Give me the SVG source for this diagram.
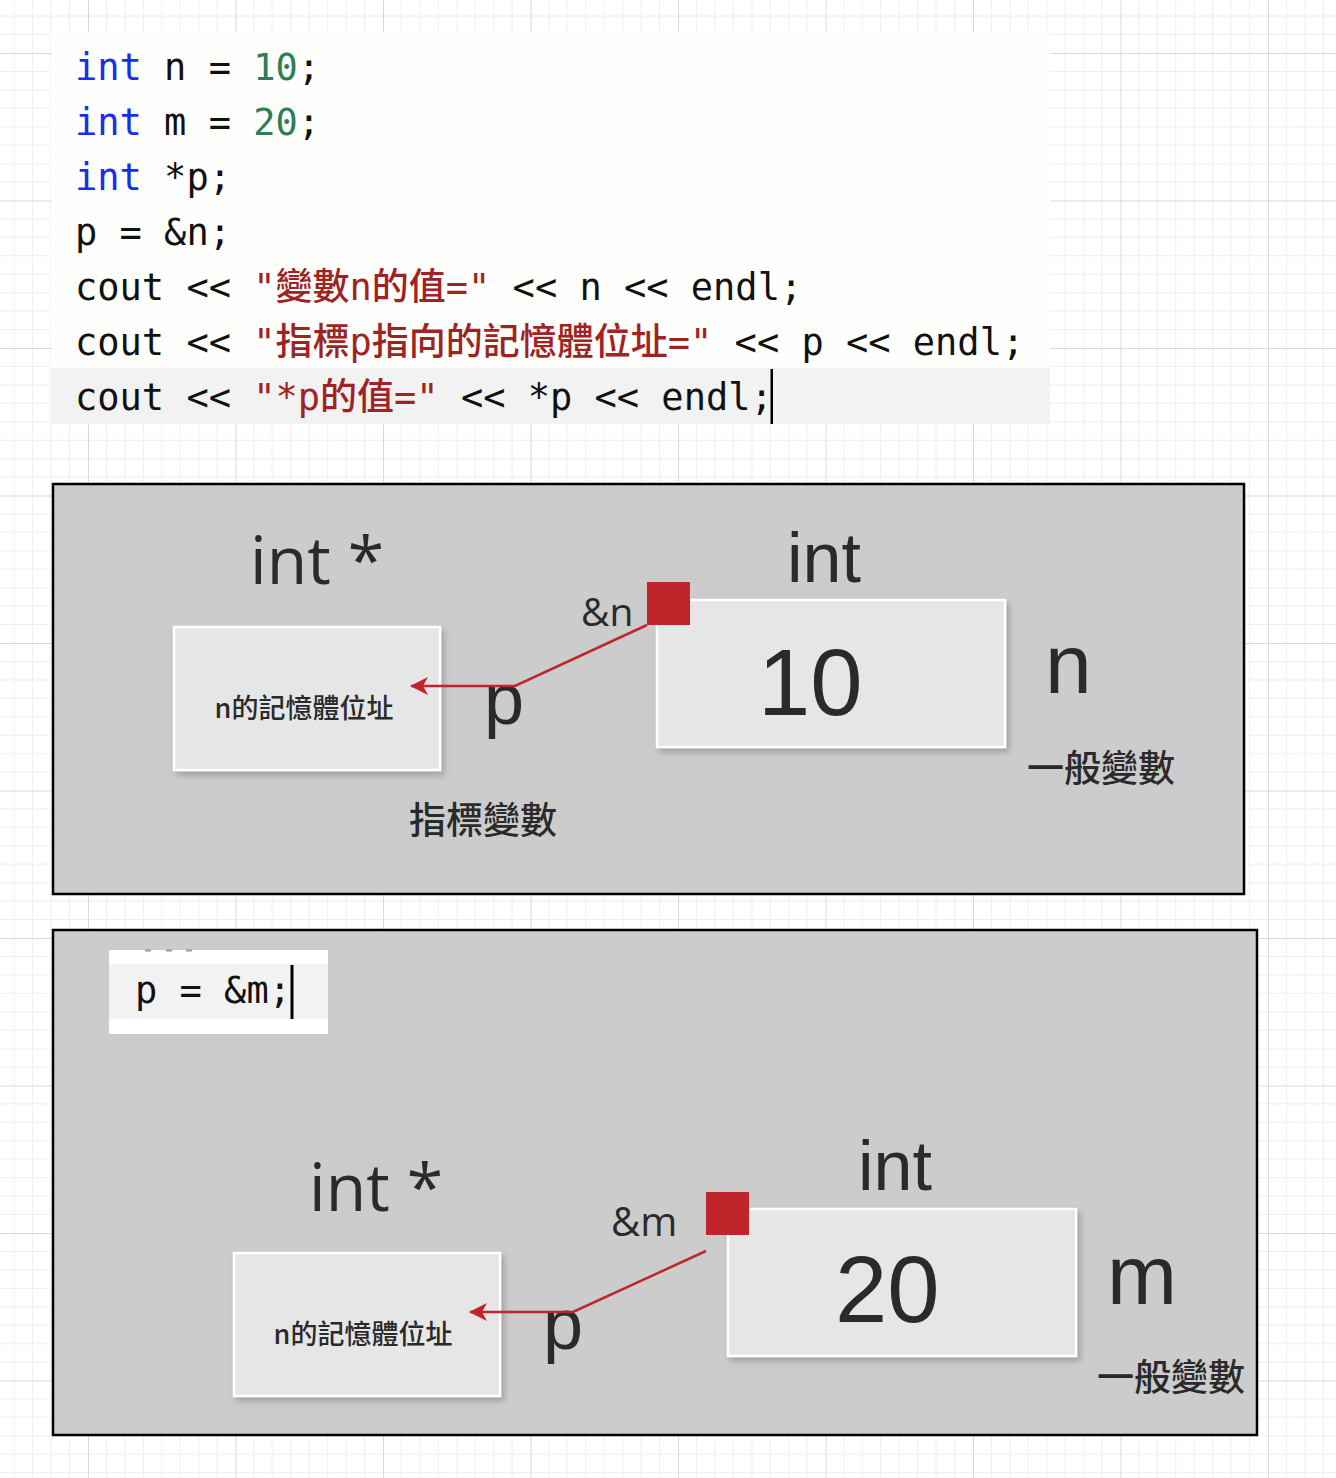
<svg xmlns="http://www.w3.org/2000/svg" width="1336" height="1478" viewBox="0 0 1336 1478">
<style>
.code{font-family:"DejaVu Sans Mono","Noto Sans CJK TC",monospace;font-size:37px;fill:#111}
.kw{fill:#1430ee}
.num{fill:#2d7d55}
.str{fill:#a02323;font-weight:500}
.panel{fill:#cccccc;stroke:#000;stroke-width:2.5}
.box{fill:#e6e6e6;stroke:#ffffff;stroke-width:2.5;filter:url(#shadow)}
.red{fill:#c1252c}
.os{font-family:"Open Sans","Noto Sans",sans-serif;fill:#2a2a2a}
.ls{font-family:"Liberation Sans",Arial,sans-serif;fill:#2a2a2a}
.cjk{font-family:"Noto Sans CJK TC","Noto Sans",sans-serif;fill:#2a2a2a;font-weight:500}
.conn{fill:none;stroke:#c1252c;stroke-width:2.5;marker-end:url(#arrow)}
</style>
<defs>
<pattern id="grid" patternUnits="userSpaceOnUse" x="88" y="53" width="147.5" height="147.5">
<path d="M18.44 0V147.5M36.88 0V147.5M55.31 0V147.5M73.75 0V147.5M92.19 0V147.5M110.63 0V147.5M129.06 0V147.5M0 18.44H147.5M0 36.88H147.5M0 55.31H147.5M0 73.75H147.5M0 92.19H147.5M0 110.63H147.5M0 129.06H147.5" stroke="#eeeeee" stroke-width="1" fill="none"/>
<path d="M0.5 0V147.5M0 0.5H147.5" stroke="#d9d9d9" stroke-width="1" fill="none"/>
</pattern>
<filter id="shadow" x="-10%" y="-10%" width="130%" height="130%">
<feDropShadow dx="3" dy="4" stdDeviation="3" flood-color="#000" flood-opacity="0.22"/>
</filter>
<marker id="arrow" markerUnits="userSpaceOnUse" viewBox="0 0 18 18" markerWidth="18" markerHeight="18" refX="17" refY="9" orient="auto">
<path d="M0,0 L18,9 L0,18 L5,9 Z" fill="#c1252c"/>
</marker>
</defs>

<rect width="1336" height="1478" fill="#ffffff"/>
<rect width="1336" height="1478" fill="url(#grid)"/>

<g id="code-block">
<rect x="51" y="32" width="999" height="392" fill="#fefefc"/>
<rect x="51" y="368" width="999" height="56" fill="#f2f2f2"/>
<text class="code" x="75" y="80"><tspan class="kw">int</tspan> n = <tspan class="num">10</tspan>;</text>
<text class="code" x="75" y="135"><tspan class="kw">int</tspan> m = <tspan class="num">20</tspan>;</text>
<text class="code" x="75" y="190"><tspan class="kw">int</tspan> *p;</text>
<text class="code" x="75" y="245">p = &amp;n;</text>
<text class="code" x="75" y="300">cout &lt;&lt; <tspan class="str">"變數n的值="</tspan> &lt;&lt; n &lt;&lt; endl;</text>
<text class="code" x="75" y="355">cout &lt;&lt; <tspan class="str">"指標p指向的記憶體位址="</tspan> &lt;&lt; p &lt;&lt; endl;</text>
<text class="code" x="75" y="410">cout &lt;&lt; <tspan class="str">"*p的值="</tspan> &lt;&lt; *p &lt;&lt; endl;</text>
<rect x="770.5" y="369" width="2.5" height="55" fill="#000"/>
</g>

<g id="panel-top">
<rect class="panel" x="53" y="484" width="1191" height="410"/>
</g>
<g id="label-intptr-top"><text class="os" x="250" y="584" font-size="66">int *</text></g>
<g id="pointer-box-top">
<rect class="box" x="174" y="627" width="266" height="143"/>
<text class="cjk" x="304" y="718" font-size="27" text-anchor="middle">n的記憶體位址</text>
</g>
<g id="label-p-top"><text class="ls" x="484" y="724" font-size="72">p</text></g>
<g id="label-ptrvar-top"><text class="cjk" x="409" y="834" font-size="37">指標變數</text></g>
<g id="label-int-top"><text class="ls" x="787" y="582" font-size="70">int</text></g>
<g id="value-box-top">
<rect class="box" x="657" y="600" width="348" height="147"/>
<text class="ls" x="758" y="715" font-size="94">10</text>
</g>
<g id="addr-top">
<rect class="red" x="647" y="582" width="43" height="43"/>
<text class="os" x="581" y="626" font-size="39">&amp;n</text>
</g>
<g id="label-n"><text class="ls" x="1045" y="693" font-size="84">n</text></g>
<g id="label-normal-top"><text class="cjk" x="1027" y="782" font-size="37">一般變數</text></g>

<g id="panel-bottom">
<rect class="panel" x="53" y="930" width="1204" height="505"/>
</g>
<g id="code-snippet">
<rect x="109" y="950" width="219" height="84" fill="#ffffff"/>
<rect x="109" y="964" width="219" height="55" fill="#f2f2f2"/>
<rect x="145" y="949.5" width="6" height="2" fill="#9a9a9a"/>
<rect x="166" y="949.5" width="6" height="2" fill="#9a9a9a"/>
<rect x="186" y="949.5" width="6" height="2" fill="#9a9a9a"/>
<text class="code" x="135" y="1003">p = &amp;m;</text>
<rect x="290.5" y="965" width="3" height="54" fill="#000"/>
</g>
<g id="label-intptr-bottom"><text class="os" x="309" y="1211" font-size="66">int *</text></g>
<g id="pointer-box-bottom">
<rect class="box" x="234" y="1253" width="266" height="143"/>
<text class="cjk" x="363" y="1344" font-size="27" text-anchor="middle">n的記憶體位址</text>
</g>
<g id="label-p-bottom"><text class="ls" x="543" y="1349" font-size="72">p</text></g>
<g id="label-int-bottom"><text class="ls" x="858" y="1190" font-size="70">int</text></g>
<g id="value-box-bottom">
<rect class="box" x="728" y="1209" width="348" height="147"/>
<text class="ls" x="835" y="1322" font-size="94">20</text>
</g>
<g id="addr-bottom">
<rect class="red" x="706" y="1192" width="43" height="43"/>
<text class="os" x="611" y="1236" font-size="40">&amp;m</text>
</g>
<g id="label-m"><text class="ls" x="1107" y="1304" font-size="84">m</text></g>
<g id="label-normal-bottom"><text class="cjk" x="1097" y="1391" font-size="37">一般變數</text></g>

<g id="connectors">
<polyline class="conn" points="647,625 515,686 411,686"/>
<polyline class="conn" points="706,1251 573,1312 470,1312"/>
</g>
</svg>
